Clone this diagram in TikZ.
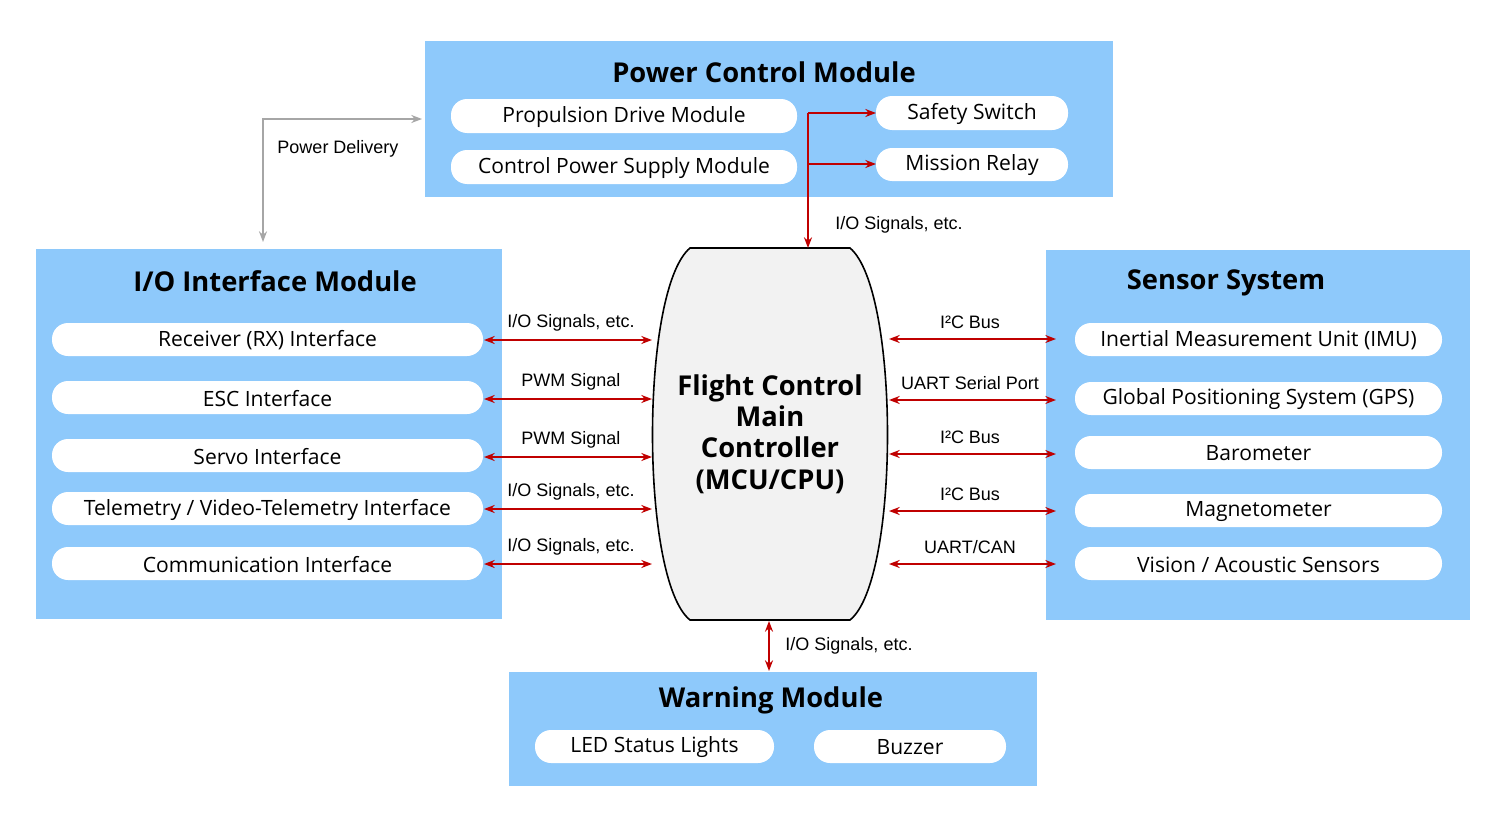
\documentclass[tikz,border=0pt]{standalone}
\usepackage{fontspec}
\setmainfont{Open Sans}
\newfontfamily\lab{Liberation Sans}
\usetikzlibrary{arrows.meta}
\definecolor{bg}{HTML}{8EC9FB}
\definecolor{ar}{HTML}{C00000}
\begin{document}
\begin{tikzpicture}[x=0.75pt,y=-0.75pt,
 panel/.style={fill=bg,draw=none},
 pill/.style={fill=white,rounded corners=12pt,draw=none},
 ptxt/.style={font=\fontsize{15.8}{17}\selectfont},
 ttl/.style={font=\bfseries\fontsize{20.5}{22}\selectfont},
 lbl/.style={font=\lab\fontsize{13.5}{15}\selectfont},
 rar/.style={draw=ar,line width=1.5pt,{Stealth[length=8pt]}-{Stealth[length=8pt]}},
 ra/.style={draw=ar,line width=1.5pt,-{Stealth[length=8pt]}}]
\useasboundingbox (0,0) rectangle (1504,835);
% panels
\fill[panel] (425,41) rectangle (1113,197);
\fill[panel] (36,249) rectangle (502,619);
\fill[panel] (1046,250) rectangle (1470,620);
\fill[panel] (509,672) rectangle (1037,786);
\node[ttl] (tp) at (764,72) {Power Control Module};
\node[ttl] (ti) at (275,281) {I/O Interface Module};
\node[ttl] (ts) at (1226,283) {Sensor System};
\node[ttl] (tw) at (771,700) {Warning Module};
% pills
\newcommand{\pill}[6]{\fill[pill] (#2,#3) rectangle (#4,#5); \node[ptxt] (#1) at ({(#2+#4)/2},{(#3+#5)/2+1}) {#6};}
\pill{pd}{451}{99}{797}{133}{Propulsion Drive Module}
\pill{cp}{451}{150}{797}{184}{Control Power Supply Module}
\pill{ss}{876}{96}{1068}{130}{Safety Switch}
\pill{mr}{876}{148}{1068}{181}{Mission Relay}
\pill{rx}{52}{323}{483}{356}{Receiver (RX) Interface}
\pill{esc}{52}{381}{483}{414}{ESC Interface}
\pill{sv}{52}{439}{483}{472}{Servo Interface}
\pill{tl}{52}{492}{483}{525}{Telemetry / Video-Telemetry Interface}
\pill{cm}{52}{547}{483}{580}{Communication Interface}
\pill{imu}{1075}{323}{1442}{356}{Inertial Measurement Unit (IMU)}
\pill{gps}{1075}{382}{1442}{415}{Global Positioning System (GPS)}
\pill{bar}{1075}{436}{1442}{469}{Barometer}
\pill{mag}{1075}{494}{1442}{527}{Magnetometer}
\pill{vis}{1075}{547}{1442}{580}{Vision / Acoustic Sensors}
\pill{led}{535}{730}{774}{763}{LED Status Lights}
\pill{bz}{814}{730}{1006}{763}{Buzzer}
% controller
\draw[fill=black!5,line width=1.2pt] (690,248) -- (850,248)
  .. controls (900,290) and (900,580) .. (850,620) -- (690,620)
  .. controls (640,580) and (640,290) .. (690,248) -- cycle;
\node[font=\bfseries\fontsize{20.5}{23.5}\selectfont,align=center] (fc) at (770,434) {Flight Control\\Main\\Controller\\(MCU/CPU)};
\coordinate (ct) at (808,248);
\coordinate (cb) at (769,621);
\foreach \y/\t in {340/{I/O Signals, etc.},399/{PWM Signal},457/{PWM Signal},509/{I/O Signals, etc.},564/{I/O Signals, etc.}}{
 \draw[rar] (484,\y) -- (652,\y);
 \node[lbl] at (571,\y-17) {\t};}
\foreach \y/\t in {339/{I²C Bus},400/{UART Serial Port},454/{I²C Bus},511/{I²C Bus},564/{UART/CAN}}{
 \draw[rar] (889,\y) -- (1056,\y);
 \node[lbl] at (970,\y-17) {\t};}
% top
\coordinate (j1) at (808,113);
\coordinate (j2) at (808,164);
\draw[ra] (j1) -- (ct);
\draw[ra] (j1) -- (876,113);
\draw[ra] (j2) -- (876,164);
\node[lbl] at (899,225) {I/O Signals, etc.};
% bottom
\draw[rar] (cb) -- (769,671);
\node[lbl] at (849,646) {I/O Signals, etc.};
% gray
\coordinate (g1) at (422,119); \coordinate (g2) at (263,242);
\draw[gray!70,line width=1.5pt,{Stealth[length=8pt]}-{Stealth[length=8pt]}] (g1) -- (263,119) -- (g2);
\node[lbl] at (338,149) {Power Delivery};
\end{tikzpicture}
\end{document}
